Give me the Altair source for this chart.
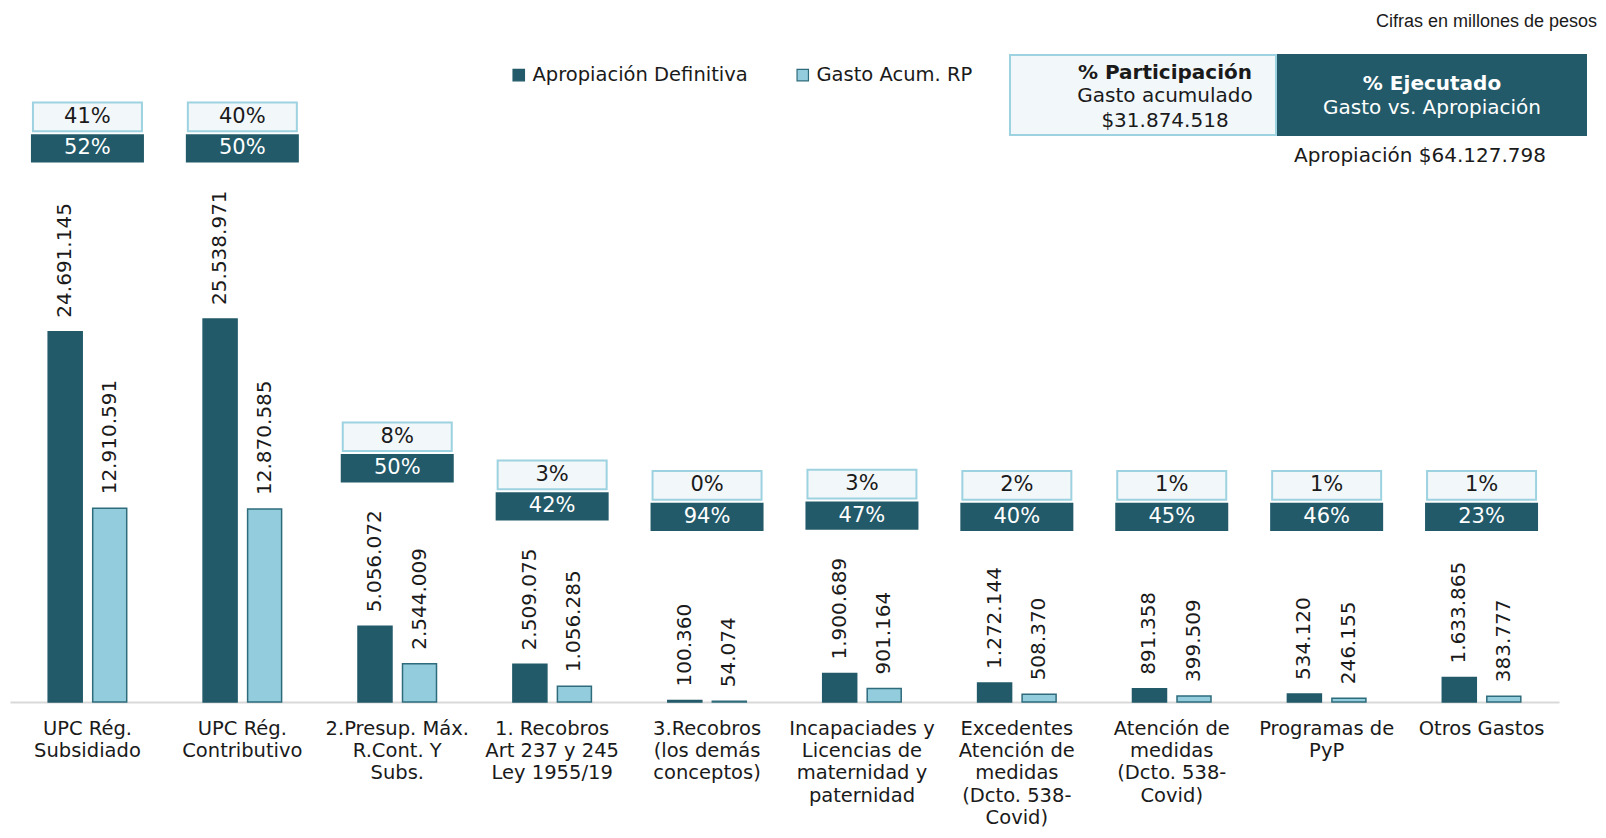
import altair as alt
import pandas as pd

# ---------------- data ----------------
categorias = [
    "UPC Rég.|Subsidiado",
    "UPC Rég.|Contributivo",
    "2.Presup. Máx.|R.Cont. Y|Subs.",
    "1. Recobros|Art 237 y 245|Ley 1955/19",
    "3.Recobros|(los demás|conceptos)",
    "Incapaciades y|Licencias de|maternidad y|paternidad",
    "Excedentes|Atención de|medidas|(Dcto. 538-|Covid)",
    "Atención de|medidas|(Dcto. 538-|Covid)",
    "Programas de|PyP",
    "Otros Gastos",
]
series = ["Apropiación Definitiva", "Gasto Acum. RP"]
apropiacion = [24691145, 25538971, 5056072, 2509075, 100360, 1900689, 1272144, 891358, 534120, 1633865]
gasto = [12910591, 12870585, 2544009, 1056285, 54074, 901164, 508370, 399509, 246155, 383777]
participacion = [41, 40, 8, 3, 0, 3, 2, 1, 1, 1]
ejecutado = [52, 50, 50, 42, 94, 47, 40, 45, 46, 23]
total_gasto = "$31.874.518"
total_aprop = "$64.127.798"

# ---------------- styling / layout ----------------
DARK = "#225A69"
LIGHT = "#93CDDD"
LIGHT_STROKE = "#2E6B7B"
BOX_FILL = "#F2F7FA"
BOX_STROKE = "#9DD2E0"
TXT = "#1a1a1a"
FONT = "DejaVu Sans"

PLOT_W = 1549
PLOT_H = 694
PX_PER_UNIT = 15.0 / 1e6
YMAX = PLOT_H / PX_PER_UNIT
LABEL_FS = 20


def fmt(v):
    return f"{v:,}".replace(",", ".")


def label_len(s):
    d = sum(c.isdigit() for c in s)
    p = s.count(".")
    return LABEL_FS * (0.636 * d + 0.318 * p)


rows = []
for c, a, g in zip(categorias, apropiacion, gasto):
    rows.append({"cat": c, "serie": series[0], "valor": a, "lbl": fmt(a)})
    rows.append({"cat": c, "serie": series[1], "valor": g, "lbl": fmt(g)})
df = pd.DataFrame(rows)

# box level above each group: clears the tallest value label, never below a floor;
# neighbouring tall groups share the same level
tops = [max(v * PX_PER_UNIT + 14 + label_len(fmt(v)) for v in (a, g)) for a, g in zip(apropiacion, gasto)]
levels = [max(t + 28, 171) for t in tops]
for i in range(len(levels) - 1):
    if min(levels[i], levels[i + 1]) > 400:
        levels[i] = levels[i + 1] = max(levels[i], levels[i + 1])

box_rows = []
for c, b, p, e in zip(categorias, levels, participacion, ejecutado):
    u = lambda px: px / PX_PER_UNIT
    box_rows.append({
        "cat": c,
        "d_lo": u(b), "d_hi": u(b + 28.3), "d_mid": u(b + 14.2),
        "l_lo": u(b + 31.3), "l_hi": u(b + 60), "l_mid": u(b + 45.6),
        "part": f"{p}%", "ejec": f"{e}%",
    })
boxes = pd.DataFrame(box_rows)

x_scale = alt.Scale(domain=categorias, paddingInner=0, paddingOuter=0)
xo_scale = alt.Scale(domain=series, paddingInner=0.236, paddingOuter=0.858)
y_scale = alt.Scale(domain=[0, YMAX], nice=False, zero=True)

x_enc = alt.X(
    "cat:N", scale=x_scale, sort=categorias, title=None,
    axis=alt.Axis(
        labelExpr="split(datum.label, '|')", labelAngle=0, ticks=False,
        domainColor="#D9D9D9", domainWidth=2, labelFont=FONT, labelFontSize=19.5,
        labelColor=TXT, labelLineHeight=22.4, labelPadding=17, labelBaseline="top",
        labelLimit=200,
    ),
)

base = alt.Chart(df)

bars = base.mark_bar(strokeWidth=1.5).encode(
    x=x_enc,
    xOffset=alt.XOffset("serie:N", scale=xo_scale, sort=series),
    y=alt.Y("valor:Q", scale=y_scale, axis=None),
    color=alt.Color(
        "serie:N", scale=alt.Scale(domain=series, range=[DARK, LIGHT]),
        legend=alt.Legend(
            orient="none", legendX=499, legendY=57, direction="horizontal", title=None,
            symbolType="square", symbolSize=130, labelFont=FONT, labelFontSize=19.5,
            labelColor=TXT, columnPadding=45, labelOffset=4, labelLimit=400,
            symbolStrokeColor=LIGHT_STROKE, symbolStrokeWidth=1.2, symbolOpacity=1,
        ),
    ),
    stroke=alt.Stroke("serie:N", scale=alt.Scale(domain=series, range=[DARK, LIGHT_STROKE]), legend=None),
)

labels = base.mark_text(
    angle=270, align="left", baseline="middle", dx=14, font=FONT, fontSize=LABEL_FS, color=TXT
).encode(
    x=alt.X("cat:N", scale=x_scale, sort=categorias),
    xOffset=alt.XOffset("serie:N", scale=xo_scale, sort=series),
    y=alt.Y("valor:Q", scale=y_scale),
    text="lbl:N",
)

bx = alt.Chart(boxes)
dark_box = bx.mark_bar(width=113, color=DARK).encode(
    x=alt.X("cat:N", scale=x_scale, sort=categorias),
    y=alt.Y("d_lo:Q", scale=y_scale), y2="d_hi:Q",
)
light_box = bx.mark_bar(width=109, fill=BOX_FILL, stroke=BOX_STROKE, strokeWidth=2).encode(
    x=alt.X("cat:N", scale=x_scale, sort=categorias),
    y=alt.Y("l_lo:Q", scale=y_scale), y2="l_hi:Q",
)
dark_txt = bx.mark_text(font=FONT, fontSize=21, color="white", baseline="middle").encode(
    x=alt.X("cat:N", scale=x_scale, sort=categorias),
    y=alt.Y("d_mid:Q", scale=y_scale), text="ejec:N",
)
light_txt = bx.mark_text(font=FONT, fontSize=21, color=TXT, baseline="middle").encode(
    x=alt.X("cat:N", scale=x_scale, sort=categorias),
    y=alt.Y("l_mid:Q", scale=y_scale), text="part:N",
)

# ---------------- header annotations ----------------
one = alt.Chart(pd.DataFrame({"k": [0]}))
hdr_light = one.mark_rect(fill=BOX_FILL, stroke=BOX_STROKE, strokeWidth=2).encode(
    x=alt.value(1000), x2=alt.value(1266), y=alt.value(47), y2=alt.value(127))
hdr_dark = one.mark_rect(fill=DARK).encode(
    x=alt.value(1267), x2=alt.value(1577), y=alt.value(46), y2=alt.value(128))


def htext(txt, x, y, color=TXT, bold=False, size=20, font=FONT, align="center"):
    return one.mark_text(
        text=txt, font=font, fontSize=size, color=color, align=align, baseline="middle",
        fontWeight="bold" if bold else "normal",
    ).encode(x=alt.value(x), y=alt.value(y))


header = [
    hdr_light, hdr_dark,
    htext("% Participación", 1155, 65, bold=True),
    htext("Gasto acumulado", 1155, 88),
    htext(total_gasto, 1155, 112.5),
    htext("% Ejecutado", 1422, 76, color="white", bold=True),
    htext("Gasto vs. Apropiación", 1422, 100, color="white"),
    htext("Apropiación " + total_aprop, 1410, 148),
    htext("Cifras en millones de pesos", 1587, 14, size=18, font="Liberation Sans", align="right"),
]

chart = alt.layer(
    bars, labels, light_box, dark_box, light_txt, dark_txt, *header
).properties(
    width=PLOT_W, height=PLOT_H,
    autosize=alt.AutoSizeParams(type="none"),
    padding={"left": 2, "top": 0, "right": 39, "bottom": 126},
).configure(
    font=FONT, view=alt.ViewConfig(strokeWidth=0, stroke=None)
)

chart.save("out.html", embed_options={"renderer": "svg", "actions": False})
